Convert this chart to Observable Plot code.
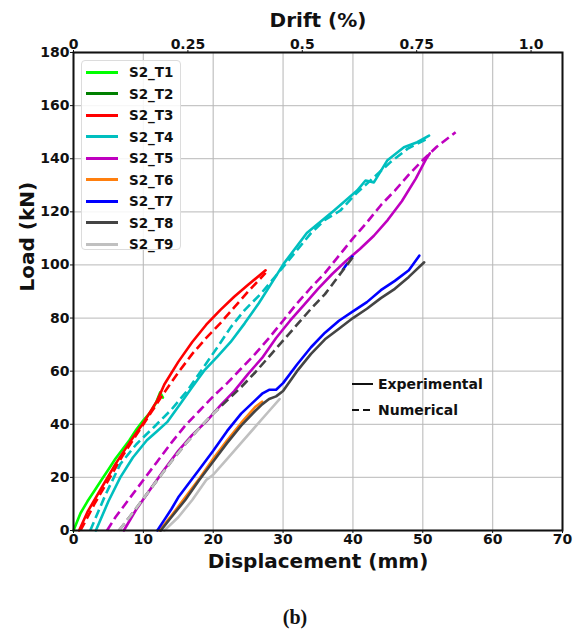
<!DOCTYPE html>
<html><head><meta charset="utf-8">
<script src="https://cdn.jsdelivr.net/npm/d3@7"></script>
<script src="https://cdn.jsdelivr.net/npm/@observablehq/plot@0.6"></script>
<style>
body{margin:0;background:#fff;}
#wrap{position:relative;width:577px;height:631px;font-family:"DejaVu Sans",sans-serif;}
#legend{position:absolute;left:81px;top:60px;width:100px;height:190px;box-sizing:border-box;border:1px solid #dcdcdc;border-radius:4px;background:rgba(255,255,255,0.85);}
.lg{position:absolute;left:4px;height:20px;display:flex;align-items:center;font-weight:bold;font-size:13.5px;color:#111;}
.lg span.sw{display:inline-block;width:32px;height:3px;margin-right:11px;}
#typ{position:absolute;left:352px;top:371px;font-weight:bold;font-size:14px;color:#111;}
.tr{height:26px;display:flex;align-items:center;}
</style></head><body><div id="wrap"></div>
<script>
// ---- data (Displacement mm, Load kN) ----
const seriesNames = ["S2_T1","S2_T2","S2_T3","S2_T4","S2_T5","S2_T6","S2_T7","S2_T8","S2_T9"];
const seriesColors = ["#00ff00","#008000","#ff0000","#00bfbf","#bf00bf","#ff7f0e","#0000ff","#444444","#c0c0c0"];

const T1_exp = [[0,0],[1,6.5],[2,11],[3,15],[4,19],[5,23],[6,27],[7,30.5],[8,34],[9,38],[10,41.5],[11,44.5],[11.8,48],[12.4,52],[12.8,50]];
const T3_exp = [[0.8,0],[2,7],[4,16],[6,25],[8,33],[10,40.5],[12,49],[13,55],[15,63.5],[17,71],[19,77.5],[21,83],[23,88],[25,92.5],[27.5,98]];
const T3_num = [[1,0],[3,10],[5,19],[7,28],[9,36],[11,44],[13,52],[15,59.5],[17,66.5],[19,72.5],[21,78],[23,84],[25,90],[27.5,97]];
const T4_exp = [[3.2,0],[5,11],[6.7,20],[8.5,27.5],[10.5,34],[12,37.5],[13.4,40.8],[15.3,47.7],[17,54],[18.7,60.2],[20.6,65.5],[22.5,71],[24.5,78],[26.5,85.5],[28.2,92.5],[30.1,100.5],[33.4,112],[37.3,120.5],[40.6,128],[41.8,131.8],[43,131.1],[44.9,139.3],[47.3,144.3],[49.2,146.2],[50.9,148.7]];
const T4_num = [[2.4,0],[4.5,13],[6.7,25],[9,32.5],[11.5,38.9],[14,45.5],[16.3,52.7],[18.5,61],[20.6,69],[22.5,76.5],[24.5,83],[26.8,89.1],[29,96],[31.5,104],[34,112],[36,117],[38.2,120.5],[40.5,127],[43,133],[45.5,139],[47.8,143.7],[50.6,147.5]];
const T5_exp = [[7.2,0],[9,8],[11,15.5],[13,23],[15,30],[17,36],[19,41],[21,47],[23,52.5],[25,59],[27,65],[29,72.5],[31,79],[33,85],[35,91],[37,96.5],[39,101.5],[41,106],[43,111],[45,117],[47,124],[49,132.5],[50.5,140],[51,142]];
const T5_num = [[4.8,0],[6,5],[8,12],[10,19],[12,26],[14,33],[16,39.5],[18,45],[20,50.5],[22,55.5],[24,61],[26,66.5],[28,72.5],[30,79],[32,85.5],[34,91.5],[36,97],[38,103.5],[40,110],[42,116],[44,122.5],[46,128],[48,134],[50,139.5],[52,144.5],[54.7,150]];
const T6_exp = [[12.3,0],[14,5.5],[16,12.5],[18,19.5],[20,27],[22,34],[24,40.5],[26,46.5],[27,48.5]];
const T7_exp = [[12,0],[13,4],[14,8],[15,12.5],[16,16],[18,23],[20,30],[22,37.5],[24,44],[26,49],[27,51.5],[28,53],[29,53],[30,55.5],[32,62.5],[34,69],[36,74.5],[38,79],[40,82.5],[42,86],[44,90.5],[46,94],[48,98],[49.5,103.5]];
const T7_num = [[38.5,98],[40,103.5]];
const T8_exp = [[12.5,0],[14,5],[16,11.5],[18,19],[20,26],[22,33],[24,39.5],[26,45],[27,47.5],[28,49.5],[29,50.5],[30,52.5],[32,60],[34,66.5],[36,72],[38,76],[40,80],[42,83.5],[44,87.5],[46,91],[48,95.5],[50.2,101]];
const T8_num = [[6.5,0],[8,5],[10,12],[12,19],[14,26],[16,32.5],[18,38.5],[20,44],[22,49],[24,54],[26,59.5],[28,65.5],[30,71.5],[32,77.5],[34,83.5],[36,89],[38,96],[40,103]];
const T9_exp = [[13,0],[15,5],[17,11.5],[19,19],[20,21],[22,27],[24,33],[26,39],[28,45],[29.5,49.5]];
const T9_num = [[6.5,0],[8,5],[10,12],[12,19],[14,26],[16,32.5],[18,38.5],[20,44],[21,46.5]];

const xTicks = [0,10,20,30,40,50,60,70];
const yTicks = [0,20,40,60,80,100,120,140,160,180];
const driftTicks = [0,0.25,0.5,0.75,1.0];
const driftLabels = ["0","0.25","0.5","0.75","1.0"];
const mmPerDriftPct = 65.5;

// ---- drawing ----
const lines = [
  [T1_exp,0,false],
  [T3_exp,2,false],[T3_num,2,true],
  [T4_exp,3,false],[T4_num,3,true],
  [T5_exp,4,false],[T5_num,4,true],
  [T6_exp,5,false],
  [T7_exp,6,false],[T7_num,6,true],
  [T8_exp,7,false],[T8_num,7,true],
  [T9_exp,8,false],[T9_num,8,true]
];
const lineMarks = lines.map(([arr,ci,dash]) => Plot.line(arr, {
  x: d=>d[0], y: d=>d[1], stroke: seriesColors[ci], strokeWidth: 2.6,
  strokeDasharray: dash ? "9,4.5" : null, strokeLinejoin:"round", strokeLinecap: dash ? "butt":"round"
}));

const driftPos = driftTicks.map(v=>v*mmPerDriftPct);
const chart = Plot.plot({
  width: 577, height: 631,
  marginLeft: 73, marginRight: 15, marginTop: 52, marginBottom: 101,
  style: {fontFamily:"DejaVu Sans", fontWeight:"bold", fontSize:"14px", color:"#111", background:"#fff"},
  x: {domain:[0,70]},
  y: {domain:[0,180]},
  marks: [
    Plot.gridX(xTicks, {stroke:"#b8b8b8", strokeOpacity:0.8, strokeWidth:1.3}),
    Plot.gridY(yTicks, {stroke:"#b8b8b8", strokeOpacity:0.8, strokeWidth:1.3}),
    ...lineMarks,
    Plot.axisX({ticks: xTicks, tickSize: 3, tickPadding: 1, label: null, fontSize: 14, fontWeight:"bold"}),
    Plot.axisX({anchor:"top", ticks: driftPos, tickSize: 3, tickPadding: 1, label: null, fontSize: 14, fontWeight:"bold",
      tickFormat: d => driftLabels[driftPos.findIndex(p=>Math.abs(p-d)<1e-6)]}),
    Plot.axisY({ticks: yTicks, tickSize: 3, tickPadding: 1, label: null, fontSize: 14, fontWeight:"bold"}),
    Plot.frame({stroke:"#111", strokeWidth:2}),
    Plot.text(["Displacement (mm)"], {frameAnchor:"bottom", lineAnchor:"middle", dy: 31, fontSize: 20, fontWeight:"bold", fill:"#111"}),
    Plot.text(["Drift (%)"], {frameAnchor:"top", lineAnchor:"middle", dy: -32, fontSize: 20, fontWeight:"bold", fill:"#111"}),
    Plot.text(["Load (kN)"], {frameAnchor:"left", lineAnchor:"middle", dx: -46, rotate: -90, fontSize: 20, fontWeight:"bold", fill:"#111"}),
    Plot.text(["(b)"], {frameAnchor:"bottom", lineAnchor:"middle", dx: -23, dy: 87, fontSize: 20, fontWeight:"bold", fontFamily:"Liberation Serif", fill:"#111"})
  ]
});
const wrap = document.getElementById("wrap");
wrap.appendChild(chart);

// series legend
const lg = document.createElement("div"); lg.id = "legend";
seriesNames.forEach((n,i)=>{
  const r = document.createElement("div"); r.className="lg"; r.style.top = (1 + i*21.5) + "px";
  r.innerHTML = `<span class="sw" style="background:${seriesColors[i]}"></span>${n}`;
  lg.appendChild(r);
});
wrap.appendChild(lg);

// type legend
const typ = document.createElement("div"); typ.id="typ";
typ.innerHTML = `<div class="tr"><svg width="26" height="6"><line x1="0" y1="3" x2="21" y2="3" stroke="#111" stroke-width="2"/></svg>Experimental</div>
<div class="tr"><svg width="26" height="6"><line x1="0" y1="3" x2="21" y2="3" stroke="#111" stroke-width="2.2" stroke-dasharray="7,4"/></svg>Numerical</div>`;
wrap.appendChild(typ);
</script></body></html>
